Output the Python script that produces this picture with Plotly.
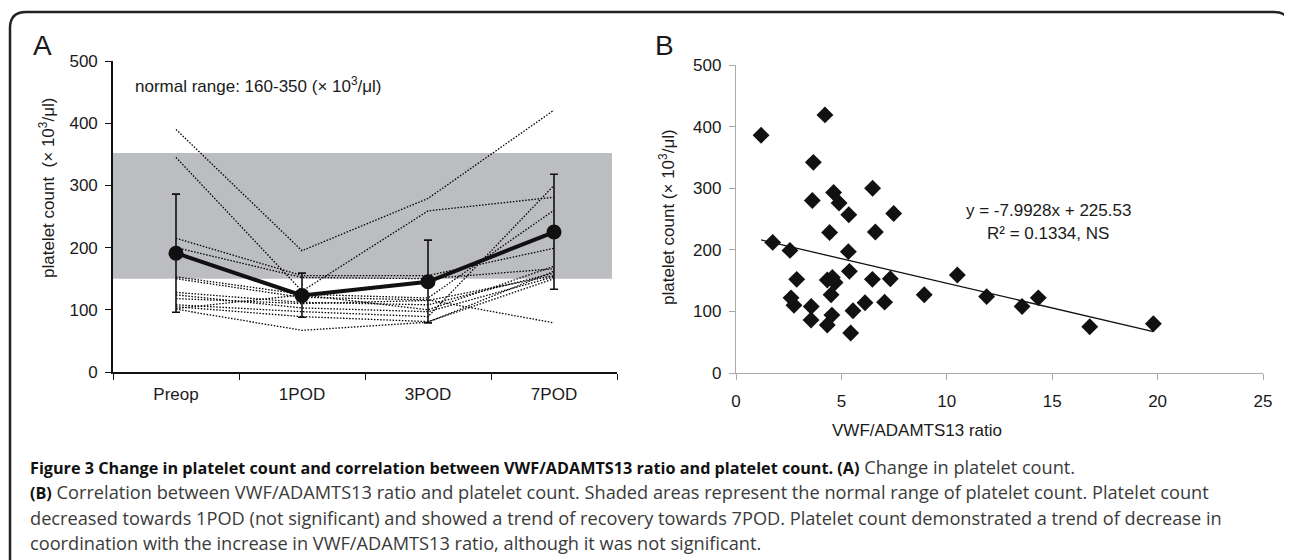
import plotly.graph_objects as go

W, H = 1292, 560
OFF = 8  # page body margin

# ---------------- data ----------------
timepoints = ["Preop", "1POD", "3POD", "7POD"]

# individual patients (platelet count x10^3/ul)
patients = [
    [390, 195, 279, 421],
    [345, 130, 259, 281],
    [215, 155, 155, 199],
    [200, 152, 150, 166],
    [153, 125, 119, 260],
    [150, 120, 116, 79],
    [128, 112, 108, 159],
    [124, 103, 97, 153],
    [108, 97, 89, 300],
    [105, 89, 81, 150],
    [101, 67, 80, 162],
    [118, 110, 115, 155],
    [102, 124, 100, 170],
]

mean_vals = [191, 123, 145, 225]
err_plus = [95, 36, 67, 93]
err_minus = [95, 35, 66, 92]

normal_low = 150
normal_high = 352

ratio = [1.19, 1.74, 2.56, 2.88, 2.61, 2.75, 3.57, 3.56, 3.67, 3.62,
         4.22, 4.33, 4.44, 4.33, 4.57, 4.70, 4.51, 4.55, 4.63, 4.89,
         5.35, 5.33, 5.38, 5.55, 5.44, 6.48, 6.61, 6.47, 6.12, 7.05,
         7.32, 7.48, 8.93, 10.5, 11.89, 13.57, 14.34, 16.78, 19.8]
platelet = [386, 212, 199, 152, 122, 110, 108, 86, 342, 280,
            419, 78, 228, 151, 155, 147, 127, 94, 293, 276,
            257, 197, 165, 101, 65, 300, 229, 152, 114, 115,
            153, 259, 127, 159, 124, 108, 122, 75, 80]

slope = -7.9928
intercept = 225.53
fit_x = [1.19, 19.8]

x_ticks_b = [0, 5, 10, 15, 20, 25]
y_ticks = [0, 100, 200, 300, 400, 500]

# ---------------- helpers ----------------
def px(x):
    return (x - OFF) / W

def py(y):
    return 1 - (y - OFF) / H

FONT = "Liberation Sans, Arial, sans-serif"
CAP_FONT = "Open Sans, Noto Sans, sans-serif"

fig = go.Figure()

# individual patient lines (panel A)
for p in patients:
    fig.add_trace(go.Scatter(
        x=timepoints, y=p, mode="lines",
        line=dict(color="black", width=1.3, dash="1.5px,1.6px"),
        xaxis="x", yaxis="y", showlegend=False, hoverinfo="skip"))

# mean with error bars
fig.add_trace(go.Scatter(
    x=timepoints, y=mean_vals, mode="lines+markers",
    line=dict(color="#111", width=4),
    marker=dict(color="#111", size=15, symbol="circle"),
    error_y=dict(type="data", array=err_plus, arrayminus=err_minus,
                 color="#111", thickness=1.6, width=4),
    xaxis="x", yaxis="y", showlegend=False))

# panel B scatter
fig.add_trace(go.Scatter(
    x=ratio, y=platelet, mode="markers",
    marker=dict(symbol="diamond", size=13, color="#111"),
    xaxis="x2", yaxis="y2", showlegend=False))

fig.add_trace(go.Scatter(
    x=fit_x, y=[slope * v + intercept for v in fit_x], mode="lines",
    line=dict(color="#111", width=1.3),
    xaxis="x2", yaxis="y2", showlegend=False))

shapes = [
    dict(type="rect", xref="x", yref="y", x0=-0.5, x1=3.46,
         y0=normal_low, y1=normal_high, fillcolor="#bcbdc1",
         line=dict(width=0), layer="below"),
]

# outer rounded border
r = 16
x0b, x1b, ytop, ybot = 10, 1290, 12, 575
path = (f"M {px(x0b)},{py(ybot)} L {px(x0b)},{py(ytop + r)} "
        f"Q {px(x0b)},{py(ytop)} {px(x0b + r)},{py(ytop)} "
        f"L {px(x1b - r)},{py(ytop)} "
        f"Q {px(x1b)},{py(ytop)} {px(x1b)},{py(ytop + r)} "
        f"L {px(x1b)},{py(ybot)}")
shapes.append(dict(type="path", xref="paper", yref="paper", path=path,
                   line=dict(color="#222", width=2.5)))

annotations = []

def ann(text, x, y, size=17, xanchor="center", angle=0, color="#1a1a1a", family=FONT):
    annotations.append(dict(text=text, x=px(x), y=py(y), xref="paper", yref="paper",
                            xanchor=xanchor, yanchor="middle", showarrow=False,
                            textangle=angle,
                            font=dict(size=size, color=color, family=family)))

ann("A", 42, 46, size=28)
ann("B", 664, 46, size=28)
ann("normal range: 160-350 (× 10<sup>3</sup>/μl)", 133, 85, size=17, xanchor="left")
ann("platelet count  (× 10<sup>3</sup>/μl)", 47, 188, size=17, angle=-90)
ann("platelet count (× 10<sup>3</sup>/μl)", 667, 217, size=17, angle=-90)
ann("VWF/ADAMTS13 ratio", 917, 430, size=17)
ann("y = -7.9928x + 225.53", 1048, 210, size=17)
ann("R² = 0.1334, NS", 1048, 233, size=17)

B = '<b style="font-size:16.2px;color:#111">'
cap_lines = [
    B + "Figure 3 Change in platelet count and correlation between VWF/ADAMTS13 ratio and platelet count. (A)</b> Change in platelet count.",
    B + "(B)</b> Correlation between VWF/ADAMTS13 ratio and platelet count. Shaded areas represent the normal range of platelet count. Platelet count",
    "decreased towards 1POD (not significant) and showed a trend of recovery towards 7POD. Platelet count demonstrated a trend of decrease in",
    "coordination with the increase in VWF/ADAMTS13 ratio, although it was not significant.",
]
for i, t in enumerate(cap_lines):
    ann(t, 28, 467 + i * 25.3, size=18.2, xanchor="left", color="#3a3a3a", family=CAP_FONT)

axis_common = dict(showgrid=False, zeroline=False, ticks="outside", ticklen=6,
                   automargin=False,
                   tickfont=dict(size=17, family=FONT, color="#1a1a1a"))

fig.update_layout(
    width=W, height=H,
    margin=dict(l=0, r=0, t=0, b=0, pad=0, autoexpand=False),
    paper_bgcolor="white", plot_bgcolor="rgba(0,0,0,0)",
    shapes=shapes, annotations=annotations,
    xaxis=dict(domain=[px(113), px(617)], anchor="y", type="category",
               categoryorder="array", categoryarray=timepoints,
               range=[-0.5, 3.5], tickson="boundaries",
               showline=True, linecolor="#111", linewidth=1.6,
               tickcolor="#111", tickwidth=1.4, ticklabelstandoff=6, **axis_common),
    yaxis=dict(domain=[py(372), py(61)], anchor="x", range=[0, 500],
               tickvals=y_ticks, showline=True, linecolor="#111", linewidth=1.6,
               tickcolor="#111", tickwidth=1.4, ticklabelstandoff=4, **axis_common),
    xaxis2=dict(domain=[px(736), px(1263)], anchor="y2", range=[0, 25],
                tickvals=x_ticks_b, showline=True, linecolor="#aaa", linewidth=1.4,
                tickcolor="#aaa", tickwidth=1.2, ticklabelstandoff=6, **axis_common),
    yaxis2=dict(domain=[py(373), py(65)], anchor="x2", range=[0, 500],
                tickvals=y_ticks, showline=True, linecolor="#aaa", linewidth=1.4,
                tickcolor="#aaa", tickwidth=1.2, ticklabelstandoff=4, **axis_common),
)

fig.write_html("out.html")
